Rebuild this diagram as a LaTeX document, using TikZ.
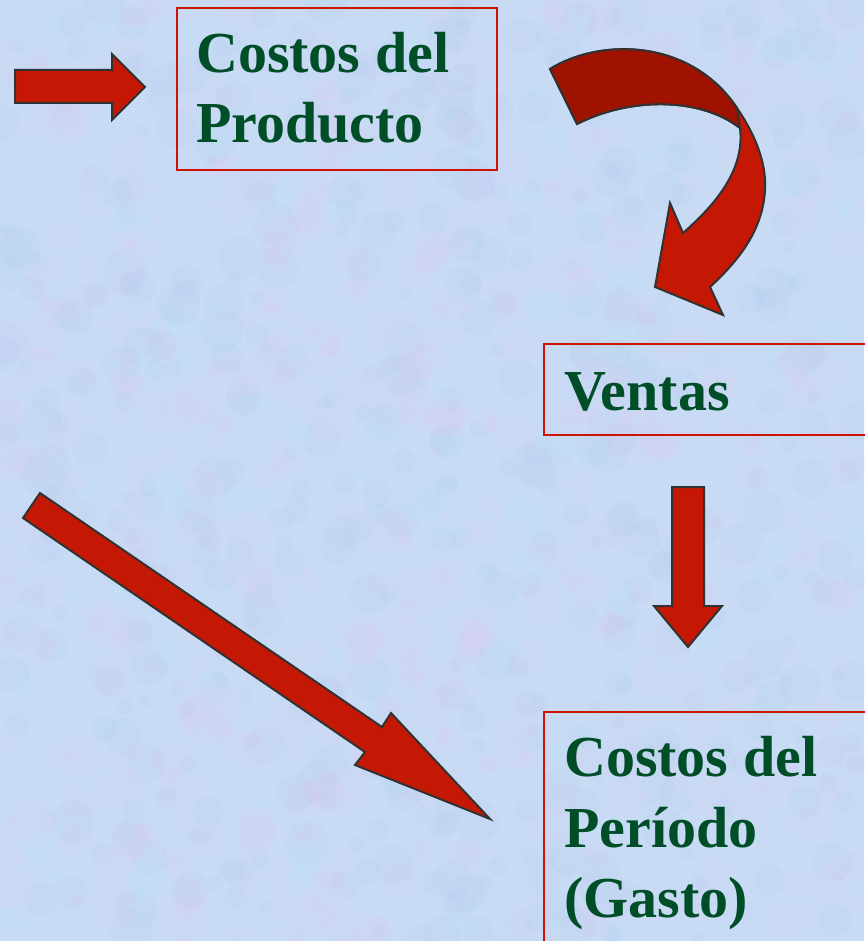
\documentclass[tikz,border=0pt]{standalone}
\usepackage{fontspec}
\setmainfont{Liberation Serif}
\begin{document}
\begin{tikzpicture}[x=1pt,y=-1pt]
\definecolor{bgblue}{RGB}{201,219,244}
\definecolor{mpink}{RGB}{232,192,238}
\definecolor{mcyan}{RGB}{185,232,250}
\definecolor{mblue}{RGB}{165,196,240}
\definecolor{txtgreen}{RGB}{0,78,40}
\definecolor{boxred}{RGB}{208,18,0}
\definecolor{arrred}{RGB}{197,24,4}
\definecolor{arrdark}{RGB}{160,18,0}
\definecolor{outl}{RGB}{50,50,50}
\tikzset{
  boxframe/.style={draw=boxred, line width=2pt, fill=none, inner sep=0pt, anchor=north west},
  label/.style={text=txtgreen, font=\fontsize{58}{70}\selectfont\bfseries, anchor=base west, inner sep=0pt},
  blockarrow/.style={fill=arrred, draw=outl, line width=2pt, line join=miter},
  blob/.style={fill opacity=0.09, draw=none},
}
\useasboundingbox (0,0) rectangle (864,941);
\fill[bgblue] (0,0) rectangle (864,941);
\pgfmathsetseed{7}
\foreach \i in {1,...,1400}{
  \pgfmathsetmacro{\bx}{rnd*864}
  \pgfmathsetmacro{\by}{rnd*941}
  \pgfmathsetmacro{\br}{6+rnd*16}
  \pgfmathtruncatemacro{\bc}{mod(\i,3)}
  \ifcase\bc
    \fill[blob, mpink] (\bx,\by) circle[radius=\br];
  \or
    \fill[blob, mcyan] (\bx,\by) circle[radius=\br];
  \else
    \fill[blob, mblue] (\bx,\by) circle[radius=\br];
  \fi
}
% boxes
\node[boxframe, minimum width=320pt, minimum height=162pt] (prod) at (176,7) {};
\node[boxframe, minimum width=322pt, minimum height=91pt] (ventas) at (543,343) {};
\node[boxframe, minimum width=322pt, minimum height=240pt] (periodo) at (543,711) {};
% texts
\node[label] (t1a) at (196,73) {Costos del};
\node[label] (t1b) at (196,143) {Producto};
\node[label] (t2) at (564,410) {Ventas};
\node[label] (t3a) at (564,776) {Costos del};
\node[label] (t3b) at (564,847) {Período};
\node[label] (t3c) at (564,917) {(Gasto)};
% small right arrow
\draw[blockarrow] (15,70) -- (112,70) -- (112,54) -- (145,87) -- (112,120) -- (112,103) -- (15,103) -- cycle;
% down arrow
\draw[blockarrow] (672,487) -- (704,487) -- (704,606) -- (722,606) -- (688,647) -- (654,606) -- (672,606) -- cycle;
% diagonal arrow
\draw[blockarrow] (40,493) -- (382,727) -- (391,713) -- (490,819) -- (355,765) -- (365,752) -- (23,518) -- cycle;
% curved arrow
\draw[blockarrow] (550,69) .. controls (600,38) and (690,38) .. (737,108)
  .. controls (752,130) and (767,160) .. (765,190)
  .. controls (763,225) and (745,255) .. (710,287)
  -- (723,315) -- (655,287) -- (670,203) -- (683,233)
  .. controls (715,205) and (745,170) .. (740,128)
  .. controls (700,97) and (630,97) .. (577,124) -- cycle;
\draw[blockarrow, fill=arrdark] (550,69) .. controls (600,38) and (690,38) .. (737,108)
  -- (740,128)
  .. controls (700,97) and (630,97) .. (577,124) -- cycle;
\end{tikzpicture}
\end{document}
